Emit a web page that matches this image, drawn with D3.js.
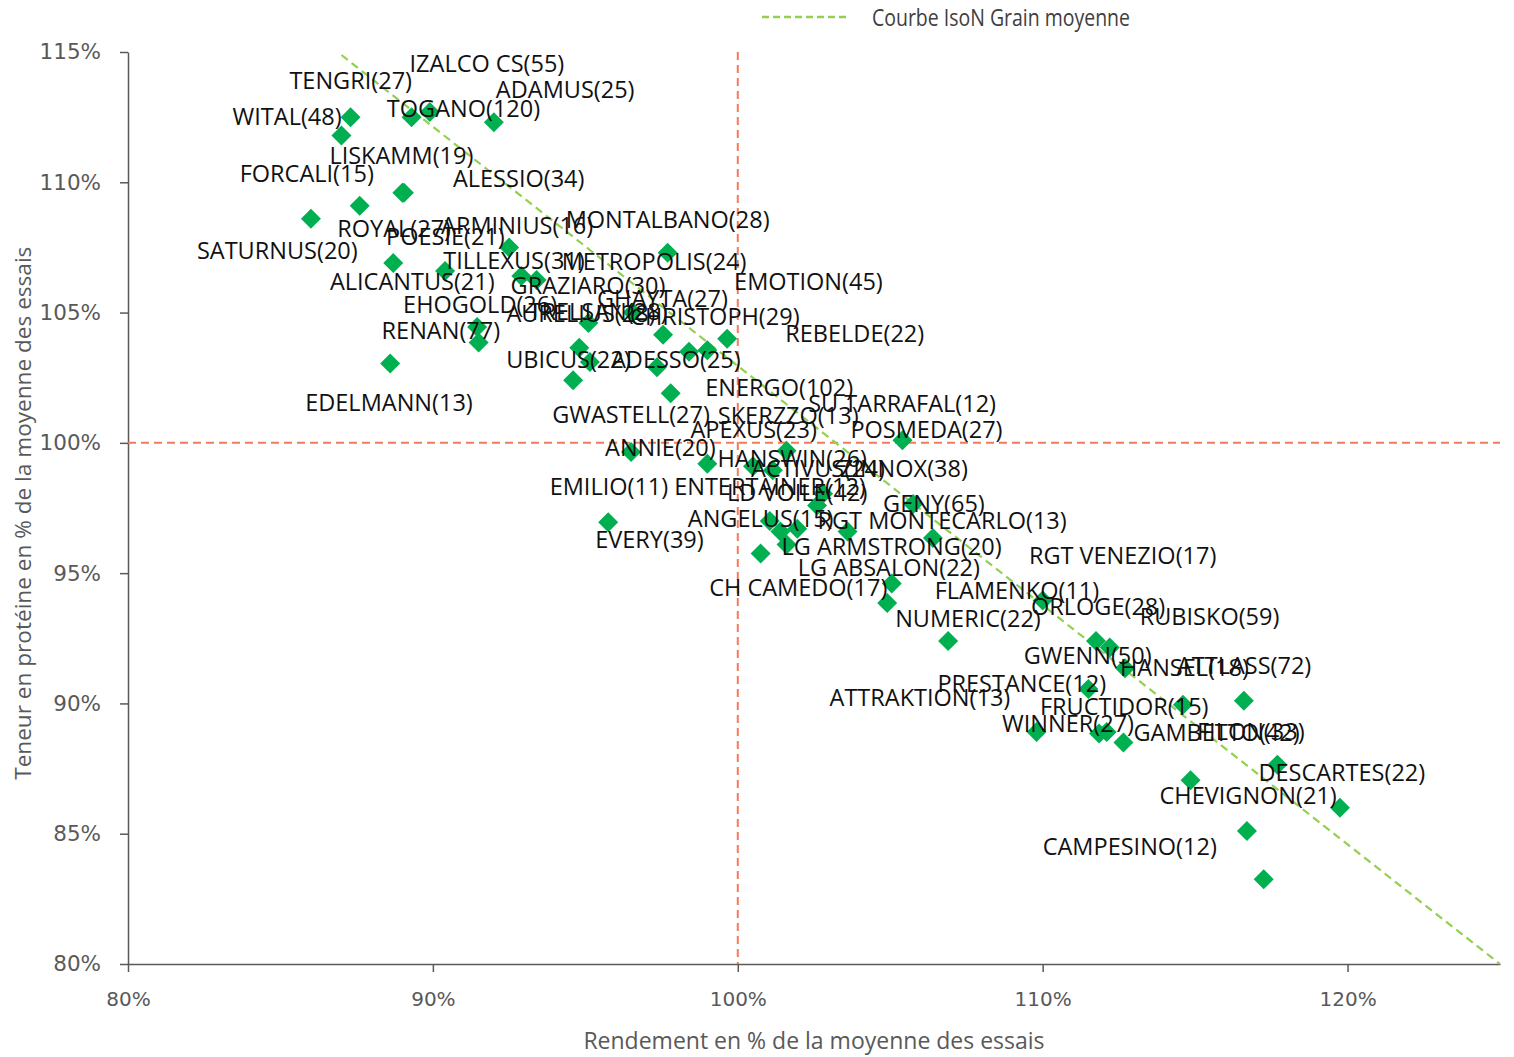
<!DOCTYPE html>
<html>
<head>
<meta charset="utf-8">
<script src="https://cdn.jsdelivr.net/npm/d3@7"></script>
<style>
  body { margin: 0; background: #fff; }
</style>
</head>
<body>
<div id="chart"></div>
<script>
// varieties (name(nb essais)), yield % and protein % of trial mean
var varieties = ["WITAL(48)", "TENGRI(27)", "IZALCO CS(55)", "TOGANO(120)", "ADAMUS(25)", "LISKAMM(19)", "FORCALI(15)",
    "SATURNUS(20)", "ARMINIUS(16)", "ROYAL(27)", "POESIE(21)", "TILLEXUS(31)", "GRAZIARO(30)", "AURELIUS(28)",
    "EHOGOLD(26)", "RENAN(77)", "EDELMANN(13)", "UBICUS(22)", "GWASTELL(27)", "ALICANTUS(21)", "MONTALBANO(28)",
    "TRELSAN(28)", "CHRISTOPH(29)", "EMOTION(45)", "ADESSO(25)", "REBELDE(22)", "GHAYTA(27)", "METROPOLIS(24)",
    "POSMEDA(27)", "ANNIE(20)", "HANSWIN(26)", "ENERGO(102)", "ACTIVUS(24)", "SKERZZO(13)", "ENTERTAINER(12)",
    "LD VOILE(42)", "GENY(65)", "EVERY(39)", "ANGELUS(15)", "APEXUS(23)", "SU TARRAFAL(12)", "RGT MONTECARLO(13)",
    "ZINNOX(38)", "LG ARMSTRONG(20)", "EMILIO(11)", "LG ABSALON(22)", "CH CAMEDO(17)", "FLAMENKO(11)", "NUMERIC(22)",
    "ORLOGE(28)", "RUBISKO(59)", "HANSEL(18)", "PRESTANCE(12)", "RGT VENEZIO(17)", "FRUCTIDOR(15)", "ATTRAKTION(13)",
    "WINNER(27)", "GWENN(50)", "GAMBETTO(42)", "CHEVIGNON(21)", "DESCARTES(22)", "ATTLASS(72)", "FILON(33)",
    "CAMPESINO(12)", "ALESSIO(34)"];

var rendement = [87.3, 87.0, 89.3, 89.9, 92.0, 89.0, 87.6, 86.0, 92.5, 88.7, 90.4, 92.9, 93.4, 95.1, 91.45, 91.5,
    88.6, 94.8, 94.6, 95.15, 97.7, 96.55, 97.55, 99.65, 98.4, 99.0, 97.35, 97.8, 105.4, 96.5, 101.6, 99.0, 100.5,
    101.15, 102.8, 102.6, 105.75, 95.75, 101.05, 101.4, 101.95, 103.6, 106.4, 101.6, 100.75, 105.05, 104.9, 110.0,
    106.9, 111.75, 112.2, 112.7, 111.5, 116.6, 114.6, 109.8, 111.85, 112.1, 112.65, 114.85, 117.7, 119.75, 116.7,
    117.25, 89.05];

var proteine = [112.5, 111.8, 112.5, 112.7, 112.3, 109.6, 109.1, 108.6, 107.5, 106.9, 106.6, 106.4, 106.25, 104.6,
    104.45, 103.85, 103.05, 103.65, 102.4, 103.1, 107.3, 105.0, 104.15, 104.0, 103.5, 103.55, 102.9, 101.9, 100.1,
    99.65, 99.7, 99.2, 99.1, 98.95, 98.05, 97.6, 97.65, 96.95, 97.0, 96.6, 96.7, 96.6, 96.35, 96.1, 95.75, 94.6,
    93.85, 93.95, 92.4, 92.4, 92.15, 91.35, 90.55, 90.1, 89.95, 88.9, 88.85, 88.9, 88.5, 87.05, 87.65, 86.0, 85.1,
    83.25, 109.6];

// average IsoN curve (two ends)
var isoX = [87, 125];
var isoY = [115, 80];

var xTicks = [80, 90, 100, 110, 120];
var yTicks = [80, 85, 90, 95, 100, 105, 110, 115];

// where each label sits relative to its point (px)
var labelOffsets = [[-118, -1], [-52, -55], [-2, -54], [-43, -4], [2, -33], [-73, -38], [-120, -33], [-114, 31],
    [-68, -22], [-56, -35], [-59, -35], [-78, -16], [-26, 5], [-82, -10], [-74, -23], [-97, -13], [-85, 39],
    [-73, 11], [-21, 34], [-260, -81], [-102, -34], [-104, -2], [-33, -19], [7, -58], [-78, 7], [78, -17],
    [-60, -69], [-109, -132], [-52, -11], [-26, -5], [-69, 7], [-2, -77], [-2, 2], [-55, -55], [-149, -8],
    [-90, -13], [-30, -1], [-13, 17], [-82, -3], [-90, -102], [11, -126], [-30, -11], [-93, -70], [-5, 2],
    [-211, -68], [-94, -17], [-178, -16], [-108, -11], [-53, -23], [-65, -35], [30, -31], [-5, -1], [-151, -6],
    [-215, -146], [-143, 1], [-207, -35], [-97, -10], [-83, -77], [10, -11], [-31, 15], [-19, 7], [-163, -143],
    [-50, -100], [-221, -33], [49, -15]];

var width = 1514, height = 1057;

var svg = d3.select("#chart").append("svg")
    .attr("width", width)
    .attr("height", height);

var x = d3.scaleLinear().domain([80, 125]).range([128, 1500]);
var y = d3.scaleLinear().domain([80, 115]).range([964, 52]);

var data = varieties.map(function (d, i) {
    return {name: d, x: rendement[i], y: proteine[i], off: labelOffsets[i]};
});

// axes
var yAxis = svg.append("g")
    .attr("transform", "translate(" + x(80) + ",0)")
    .call(d3.axisLeft(y).tickValues(yTicks).tickSize(8).tickSizeOuter(0).tickPadding(19)
        .tickFormat(function (d) { return d + "%"; }));
var xAxis = svg.append("g")
    .attr("transform", "translate(0," + y(80) + ")")
    .call(d3.axisBottom(x).tickValues(xTicks).tickSize(8).tickSizeOuter(0).tickPadding(20)
        .tickFormat(function (d) { return d + "%"; }));

[xAxis, yAxis].forEach(function (a) {
    a.select(".domain").attr("stroke", "#595959").attr("stroke-width", 1.5);
    a.selectAll(".tick line").attr("stroke", "#595959").attr("stroke-width", 1.5);
    a.selectAll(".tick text")
        .attr("fill", "#595959")
        .style("font-family", "'DejaVu Sans', Verdana, sans-serif")
        .style("font-size", "20px");
});
yAxis.selectAll(".tick text").style("font-size", "21.5px");

// reference lines at 100%
svg.append("line")
    .attr("x1", x(100)).attr("x2", x(100))
    .attr("y1", y(115)).attr("y2", y(80))
    .attr("stroke", "#f47a5a").attr("stroke-width", 2).attr("stroke-dasharray", "8,5");
svg.append("line")
    .attr("x1", x(80)).attr("x2", x(125))
    .attr("y1", y(100)).attr("y2", y(100))
    .attr("stroke", "#f47a5a").attr("stroke-width", 2).attr("stroke-dasharray", "8,5");

// iso N line
svg.append("line")
    .attr("x1", x(isoX[0])).attr("y1", y(isoY[0]) + 3)
    .attr("x2", x(isoX[1])).attr("y2", y(isoY[1]))
    .attr("stroke", "#92d050").attr("stroke-width", 2.2).attr("stroke-dasharray", "8,5");

// points
var diamond = d3.symbol().type(d3.symbolSquare).size(200);
svg.append("g")
    .selectAll("path")
    .data(data)
    .enter().append("path")
    .attr("d", diamond)
    .attr("transform", function (d) { return "translate(" + x(d.x) + "," + y(d.y) + ") rotate(45)"; })
    .attr("fill", "#00b050");

// labels
svg.append("g")
    .selectAll("text")
    .data(data)
    .enter().append("text")
    .attr("x", function (d) { return x(d.x) + d.off[0]; })
    .attr("y", function (d) { return y(d.y) + d.off[1]; })
    .attr("dominant-baseline", "central")
    .style("font-family", "'Open Sans', 'Noto Sans', sans-serif")
    .style("font-size", "23.5px")
    .attr("fill", "#111")
    .text(function (d) { return d.name; });

// axis titles
svg.append("text")
    .attr("transform", "translate(22," + y(97.3) + ") rotate(-90)")
    .attr("text-anchor", "middle")
    .attr("dominant-baseline", "central")
    .style("font-family", "'Open Sans', 'Noto Sans', sans-serif")
    .style("font-size", "22.6px")
    .attr("fill", "#595959")
    .text("Teneur en protéine en % de la moyenne des essais");

svg.append("text")
    .attr("x", 814).attr("y", 1040)
    .attr("text-anchor", "middle")
    .attr("dominant-baseline", "central")
    .style("font-family", "'Open Sans', 'Noto Sans', sans-serif")
    .style("font-size", "23px")
    .attr("fill", "#595959")
    .text("Rendement en % de la moyenne des essais");

// legend
var legend = svg.append("g").attr("transform", "translate(762,17)");
legend.append("line")
    .attr("x1", 0).attr("x2", 86)
    .attr("stroke", "#92d050").attr("stroke-width", 2.5).attr("stroke-dasharray", "7,4");
legend.append("text")
    .attr("x", 872 - 762).attr("y", -1)
    .attr("dominant-baseline", "central")
    .attr("textLength", 258)
    .attr("lengthAdjust", "spacingAndGlyphs")
    .style("font-family", "'Open Sans', 'Noto Sans', sans-serif")
    .style("font-size", "24px")
    .attr("fill", "#404040")
    .text("Courbe IsoN Grain moyenne");
</script>
</body>
</html>
